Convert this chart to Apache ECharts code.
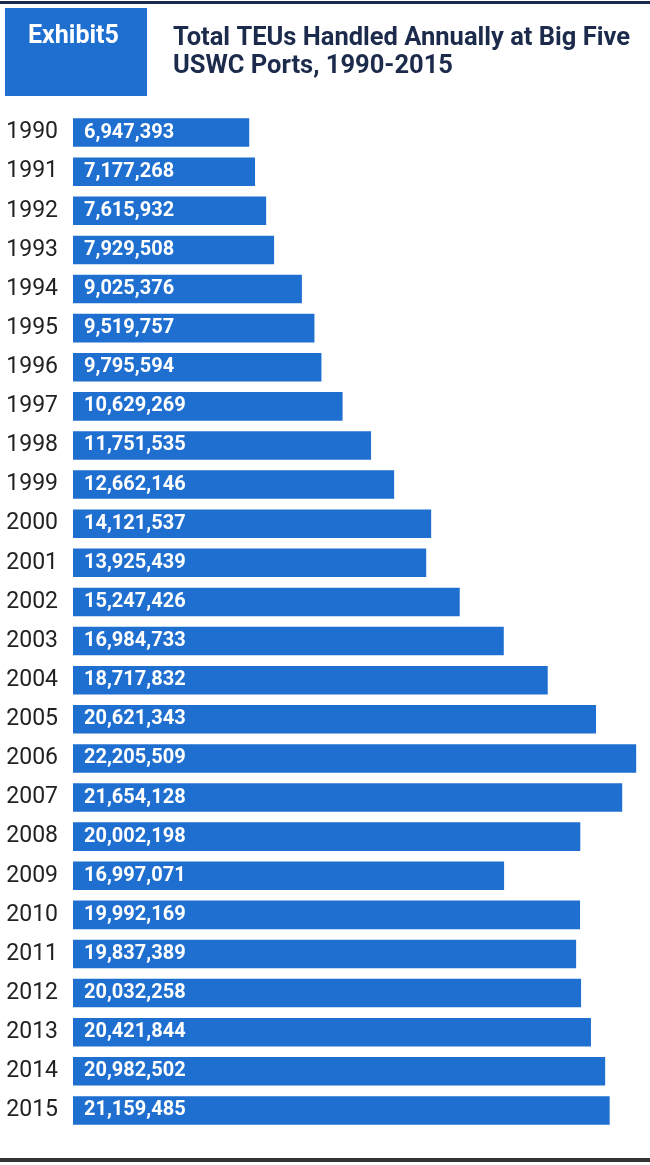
<!DOCTYPE html>
<html>
<head>
<meta charset="utf-8">
<script src="https://cdn.jsdelivr.net/npm/echarts@6/dist/echarts.min.js"></script>
<style>
html,body{margin:0;padding:0;background:#fff;}
#chart{width:650px;height:1165px;}
</style>
</head>
<body>
<div id="chart"></div>
<script>
const years = ['1990','1991','1992','1993','1994','1995','1996','1997','1998','1999','2000','2001','2002','2003','2004','2005','2006','2007','2008','2009','2010','2011','2012','2013','2014','2015'];
const teus = [6947393,7177268,7615932,7929508,9025376,9519757,9795594,10629269,11751535,12662146,14121537,13925439,15247426,16984733,18717832,20621343,22205509,21654128,20002198,16997071,19992169,19837389,20032258,20421844,20982502,21159485];
const exhibitLabel = 'Exhibit5';
const titleText = 'Total TEUs Handled Annually at Big Five\nUSWC Ports, 1990-2015';

const chart = echarts.init(document.getElementById('chart'), null, {renderer:'canvas'});
chart.setOption({
  backgroundColor:'#ffffff',
  animation:false,
  title:{
    text:titleText,
    left:168, top:20,
    textStyle:{fontFamily:'Roboto', fontWeight:'bold', fontSize:25.5, color:'#1c2a4c', lineHeight:28}
  },
  graphic:[
    {type:'rect', left:0, top:1, shape:{width:650,height:3}, style:{fill:'#1c2a4c'}},
    {type:'rect', left:5, top:8, shape:{width:142,height:88}, style:{fill:'#1f6fd1'}},
    {type:'text', left:28, top:24, style:{text:exhibitLabel, fill:'#ffffff', font:'bold 25px Roboto'}},
    {type:'rect', left:0, top:1158, shape:{width:650,height:4}, style:{fill:'#333333'}}
  ],
  grid:{left:73, right:0, top:113, height:1017},
  xAxis:{type:'value', min:0, max:22750000, show:false},
  yAxis:{
    type:'category', data:years, inverse:true,
    axisLine:{show:false}, axisTick:{show:false},
    axisLabel:{margin:15, fontFamily:'Roboto', fontSize:23, color:'#222222'}
  },
  series:[{
    type:'bar', data:teus, barCategoryGap:'27%',
    itemStyle:{color:'#1f6fd1'},
    label:{show:true, position:'insideLeft', distance:11, color:'#ffffff',
      fontFamily:'Roboto', fontWeight:'bold', fontSize:20,
      formatter:p=>p.value.toLocaleString('en-US')}
  }]
});
</script>
</body>
</html>
